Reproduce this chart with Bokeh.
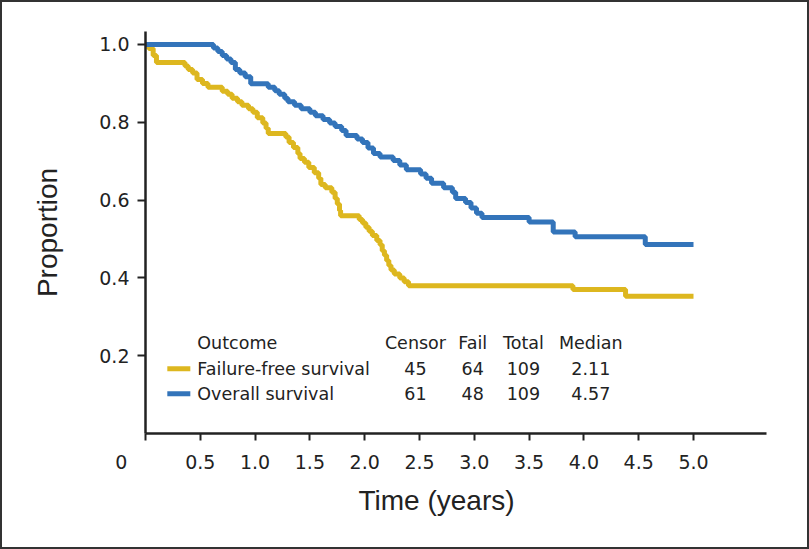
from bokeh.plotting import figure
from bokeh.models import FixedTicker, NumeralTickFormatter, Range1d, Title
from bokeh.core.properties import value
from bokeh.embed import file_html
from bokeh.resources import INLINE

# ---------------- data ----------------
ffs_time = [0, 0.03, 0.07, 0.10, 0.36, 0.39, 0.43, 0.47, 0.52, 0.57, 0.70, 0.75, 0.79, 0.84,
            0.88, 0.94, 0.98, 1.02, 1.07, 1.10, 1.12, 1.28, 1.31, 1.35, 1.39, 1.41, 1.45, 1.49,
            1.54, 1.58, 1.60, 1.64, 1.70, 1.73, 1.75, 1.77, 1.78, 1.95, 1.98, 2.01, 2.04, 2.07,
            2.11, 2.14, 2.16, 2.18, 2.20, 2.22, 2.24, 2.27, 2.32, 2.36, 2.40, 3.90, 4.38, 5.00]
ffs_surv = [1.0, 0.99, 0.972, 0.954, 0.945, 0.936, 0.927, 0.91, 0.90, 0.89, 0.88, 0.872, 0.862, 0.853,
            0.844, 0.835, 0.826, 0.812, 0.798, 0.785, 0.771, 0.762, 0.748, 0.735, 0.72, 0.707, 0.697, 0.684,
            0.67, 0.656, 0.64, 0.632, 0.62, 0.604, 0.59, 0.573, 0.56, 0.55, 0.541, 0.53, 0.52, 0.509,
            0.496, 0.485, 0.47, 0.458, 0.445, 0.432, 0.42, 0.41, 0.40, 0.39, 0.38, 0.37, 0.353, 0.353]

os_time = [0, 0.62, 0.66, 0.70, 0.74, 0.78, 0.82, 0.86, 0.91, 0.96,
           1.12, 1.18, 1.22, 1.27, 1.30, 1.36, 1.42, 1.50, 1.55, 1.62,
           1.68, 1.73, 1.79, 1.83, 1.93, 1.98, 2.03, 2.08, 2.14, 2.26,
           2.32, 2.38, 2.51, 2.56, 2.61, 2.72, 2.80, 2.83, 2.92, 2.97,
           3.02, 3.07, 3.50, 3.72, 3.92, 4.56, 5.00]
os_surv = [1.0, 0.991, 0.982, 0.972, 0.963, 0.954, 0.936, 0.927, 0.917, 0.899,
           0.89, 0.881, 0.872, 0.862, 0.853, 0.844, 0.835, 0.826, 0.817, 0.807,
           0.798, 0.789, 0.779, 0.766, 0.757, 0.748, 0.734, 0.72, 0.711, 0.702,
           0.69, 0.678, 0.667, 0.656, 0.643, 0.632, 0.62, 0.604, 0.594, 0.58,
           0.566, 0.555, 0.544, 0.518, 0.506, 0.486, 0.486]

outcomes = ["Failure-free survival", "Overall survival"]
censor = ["45", "61"]
fail = ["64", "48"]
total = ["109", "109"]
median = ["2.11", "4.57"]
headers = ["Outcome", "Censor", "Fail", "Total", "Median"]

x_ticks = [0, 0.5, 1.0, 1.5, 2.0, 2.5, 3.0, 3.5, 4.0, 4.5, 5.0]
y_ticks = [0.2, 0.4, 0.6, 0.8, 1.0]
origin_label = "0"

YELLOW = "#DDB71F"
BLUE = "#3374BA"
INK = "#222222"
TICK_FONT = value("DejaVu Sans")
TITLE_FONT = "Liberation Sans"

# ---------------- figure ----------------
p = figure(width=809, height=549, output_backend="svg", toolbar_location=None,
           x_range=Range1d(0, 5.666), y_range=Range1d(0, 1.0334),
           min_border_left=145, min_border_right=43, min_border_top=31, min_border_bottom=116,
           background_fill_color=None, border_fill_color=None)
p.styles = {"background-color": "white", "box-shadow": "inset 0 0 0 2px #333333"}
p.outline_line_color = None
p.grid.visible = False

for ax in (p.xaxis[0], p.yaxis[0]):
    ax.axis_line_color = INK
    ax.axis_line_width = 2.5
    ax.major_tick_line_color = INK
    ax.major_tick_line_width = 2
    ax.minor_tick_line_color = None
    ax.major_tick_in = 0
    ax.major_label_text_font = "DejaVu Sans"
    ax.major_label_text_font_size = "19px"
    ax.major_label_text_color = INK
    ax.formatter = NumeralTickFormatter(format="0.0")

p.xaxis[0].ticker = FixedTicker(ticks=x_ticks)
p.xaxis[0].major_tick_out = 7
p.xaxis[0].major_label_standoff = 10
# the origin "0" sits left of the corner: pad it with no-break spaces so it centres there
p.xaxis[0].major_label_overrides = {0: origin_label + "\u00a0" * 8}

p.yaxis[0].ticker = FixedTicker(ticks=y_ticks)
p.yaxis[0].major_tick_out = 8
p.yaxis[0].major_label_standoff = 8
p.yaxis[0].axis_label = "Proportion"
p.yaxis[0].axis_label_text_font = TITLE_FONT
p.yaxis[0].axis_label_text_font_size = "28px"
p.yaxis[0].axis_label_text_font_style = "normal"
p.yaxis[0].axis_label_text_color = INK
p.yaxis[0].axis_label_standoff = 33

# survival curves
p.step(ffs_time, ffs_surv, mode="after", line_width=5, line_color=YELLOW)
p.step(os_time, os_surv, mode="after", line_width=5, line_color=BLUE)

# x title
p.add_layout(Title(text="Time (years)", align="left", offset=213, standoff=14,
                   text_font=TITLE_FONT, text_font_size="28px", text_font_style="normal",
                   text_color=INK), "below")

# legend table
row_y = [0.1665, 0.1023]
head_y = 0.2334
col_x = [0.473, 2.463, 2.985, 3.448, 4.063]
p.segment(x0=[0.199, 0.199], y0=row_y, x1=[0.409, 0.409], y1=row_y,
          line_color=[YELLOW, BLUE], line_width=5)

p.text(x=col_x[:1], y=[head_y], text=headers[:1], text_align="left", text_baseline="middle",
       text_font=TICK_FONT, text_font_size="17.5px", text_color=INK)
p.text(x=col_x[1:], y=[head_y] * 4, text=headers[1:], text_align="center", text_baseline="middle",
       text_font=TICK_FONT, text_font_size="17.5px", text_color=INK)
p.text(x=[col_x[0]] * 2, y=row_y, text=outcomes, text_align="left", text_baseline="middle",
       text_font=TICK_FONT, text_font_size="17.5px", text_color=INK)
for cx, vals in zip(col_x[1:], (censor, fail, total, median)):
    p.text(x=[cx] * 2, y=row_y, text=vals, text_align="center", text_baseline="middle",
           text_font=TICK_FONT, text_font_size="17.5px", text_color=INK)

open("out.html", "w").write(file_html(p, INLINE))
